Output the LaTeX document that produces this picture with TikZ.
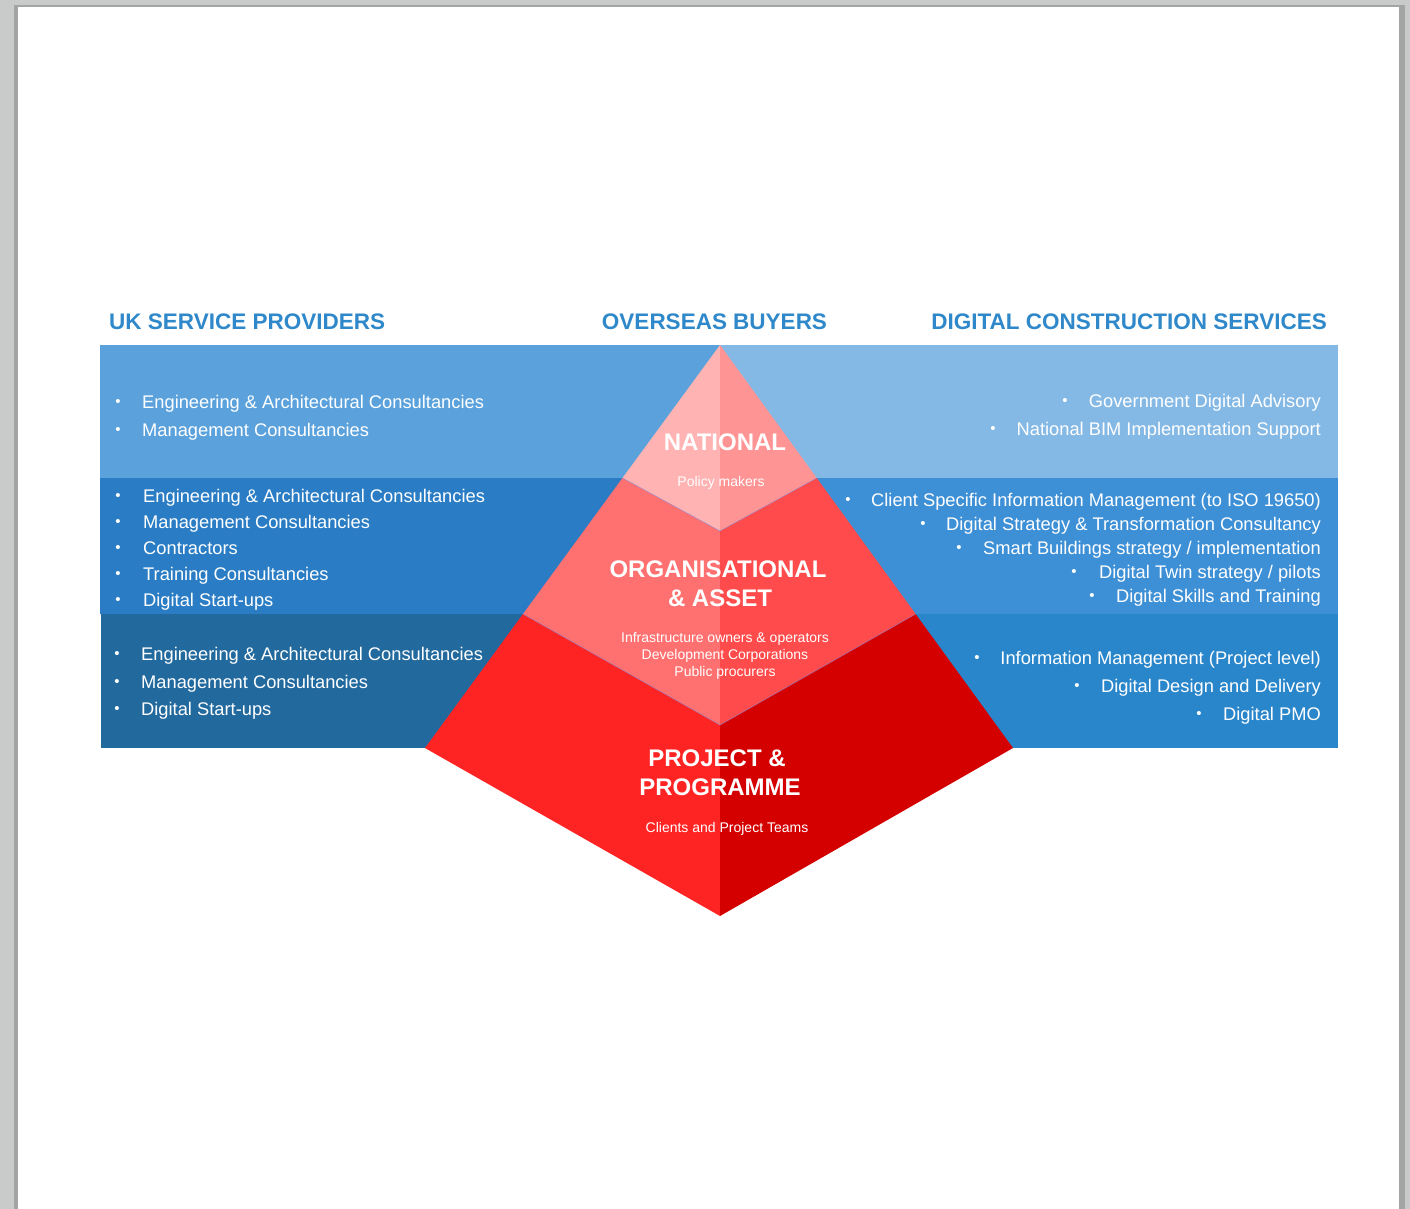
\documentclass[tikz,border=0pt]{standalone}
\usepackage{fontspec}
\setmainfont{Liberation Sans}
\begin{document}
\begin{tikzpicture}[x=1pt,y=-1pt,
  hdr/.style={text=hdrblue,font=\fontsize{22.5}{24}\selectfont\bfseries,inner sep=0pt,anchor=base},
  item/.style={text=white,font=\fontsize{18.3}{20}\selectfont,inner sep=0pt},
  bul/.style={text=white,font=\fontsize{15}{16}\selectfont,inner sep=0pt,anchor=base},
  tier/.style={text=white,font=\fontsize{24}{26}\selectfont\bfseries,inner sep=0pt,anchor=base},
  sub/.style={text=white,font=\fontsize{14}{16}\selectfont,inner sep=0pt,anchor=base},
  seam/.style={draw=seamblue,line width=0.7pt,draw opacity=0.55}]
\definecolor{pagegray}{HTML}{C9CBCB}
\definecolor{shadegray}{HTML}{A3A5A5}
\definecolor{hdrblue}{HTML}{2E88CA}
\definecolor{bandAL}{HTML}{5BA2DC}
\definecolor{bandAR}{HTML}{85B9E5}
\definecolor{bandBL}{HTML}{2A7DC4}
\definecolor{bandBR}{HTML}{3D8FD6}
\definecolor{bandCL}{HTML}{22699E}
\definecolor{bandCR}{HTML}{2A86CB}
\definecolor{natL}{HTML}{FFB3B3}
\definecolor{natR}{HTML}{FF9494}
\definecolor{orgL}{HTML}{FF7070}
\definecolor{orgR}{HTML}{FF4B4B}
\definecolor{prjL}{HTML}{FF2424}
\definecolor{prjR}{HTML}{D40000}
\definecolor{seamblue}{HTML}{8C86D8}

% page on a gray desk
\fill[pagegray] (0,0) rectangle (1410,1209);
\useasboundingbox (0,0) rectangle (1410,1209);
\fill[shadegray] (14,5) rectangle (1405,1209);
\fill[white] (18,7) rectangle (1399,1209);

% colour bands behind the pyramid
\fill[bandAL] (100,345) rectangle (720,478);
\fill[bandAR] (720,345) rectangle (1338,478);
\fill[bandBL] (100,478) rectangle (720,614);
\fill[bandBR] (720,478) rectangle (1338,614);
\fill[bandCL] (101,614) rectangle (720,748);
\fill[bandCR] (720,614) rectangle (1338,748);

% pyramid corners
\coordinate (apex) at (720,345);
\coordinate (l1) at (622.5,478);
\coordinate (r1) at (816.7,478);
\coordinate (b1) at (720,531);
\coordinate (l2) at (523,614);
\coordinate (r2) at (915.6,614);
\coordinate (b2) at (720,725);
\coordinate (l3) at (425,748);
\coordinate (r3) at (1013,748);
\coordinate (b3) at (720,916);

% project & programme tier
\fill[prjL] (l2) -- (l3) -- (b3) -- (b2) -- cycle;
\fill[prjR] (r2) -- (r3) -- (b3) -- (b2) -- cycle;
% organisational & asset tier
\fill[orgL] (l1) -- (l2) -- (b2) -- (b1) -- cycle;
\fill[orgR] (r1) -- (r2) -- (b2) -- (b1) -- cycle;
% national tier
\fill[natL] (apex) -- (l1) -- (b1) -- cycle;
\fill[natR] (apex) -- (r1) -- (b1) -- cycle;
% seams between tiers
\draw[seam] (l1) -- (b1) -- (r1);
\draw[seam] (l2) -- (b2) -- (r2);

% column headings
\node[hdr,anchor=base west] (hUK) at (109,329) {UK SERVICE PROVIDERS};
\node[hdr] (hOB) at (714.5,329) {OVERSEAS BUYERS};
\node[hdr,anchor=base east] (hDC) at (1327,329) {DIGITAL CONSTRUCTION SERVICES};

% tier labels
\node[tier] (tNat) at (725,450.5) {NATIONAL};
\node[sub] (sNat) at (721,486) {Policy makers};
\node[tier] (tOrg1) at (718,577.5) {ORGANISATIONAL};
\node[tier] (tOrg2) at (720,606.5) {\& ASSET};
\node[sub] (sOrg1) at (725,642) {Infrastructure owners \& operators};
\node[sub] (sOrg2) at (725,659) {Development Corporations};
\node[sub] (sOrg3) at (725,676) {Public procurers};
\node[tier] (tPrj1) at (717,766.5) {PROJECT \&};
\node[tier] (tPrj2) at (720,795.5) {PROGRAMME};
\node[sub] (sPrj) at (727,832) {Clients and Project Teams};

% left-hand lists
\foreach \bx/\tx/\yy/\txt [count=\i] in {
  118/142/401/{Engineering \& Architectural Consultancies},
  118/142/429/{Management Consultancies},
  118/143/495/{Engineering \& Architectural Consultancies},
  118/143/521/{Management Consultancies},
  118/143/547/{Contractors},
  118/143/573/{Training Consultancies},
  118/143/599/{Digital Start-ups},
  117/141/653/{Engineering \& Architectural Consultancies},
  117/141/681/{Management Consultancies},
  117/141/708/{Digital Start-ups}}{
  \node[bul] (lb\i) at (\bx,\yy+5.5) {•};
  \node[item,anchor=base west] (lt\i) at (\tx,\yy+7) {\txt};
}

% right-hand lists
\foreach \bx/\yy/\txt [count=\i] in {
  1065/400/{Government Digital Advisory},
  993/428/{National BIM Implementation Support},
  848/499/{Client Specific Information Management (to ISO 19650)},
  923/523/{Digital Strategy \& Transformation Consultancy},
  959/547/{Smart Buildings strategy / implementation},
  1074/571/{Digital Twin strategy / pilots},
  1092/595/{Digital Skills and Training},
  977/657/{Information Management (Project level)},
  1077/685/{Digital Design and Delivery},
  1199/713/{Digital PMO}}{
  \node[bul] (rb\i) at (\bx,\yy+5.5) {•};
  \node[item,anchor=base east] (rt\i) at (1321,\yy+7) {\txt};
}
\end{tikzpicture}
\end{document}
